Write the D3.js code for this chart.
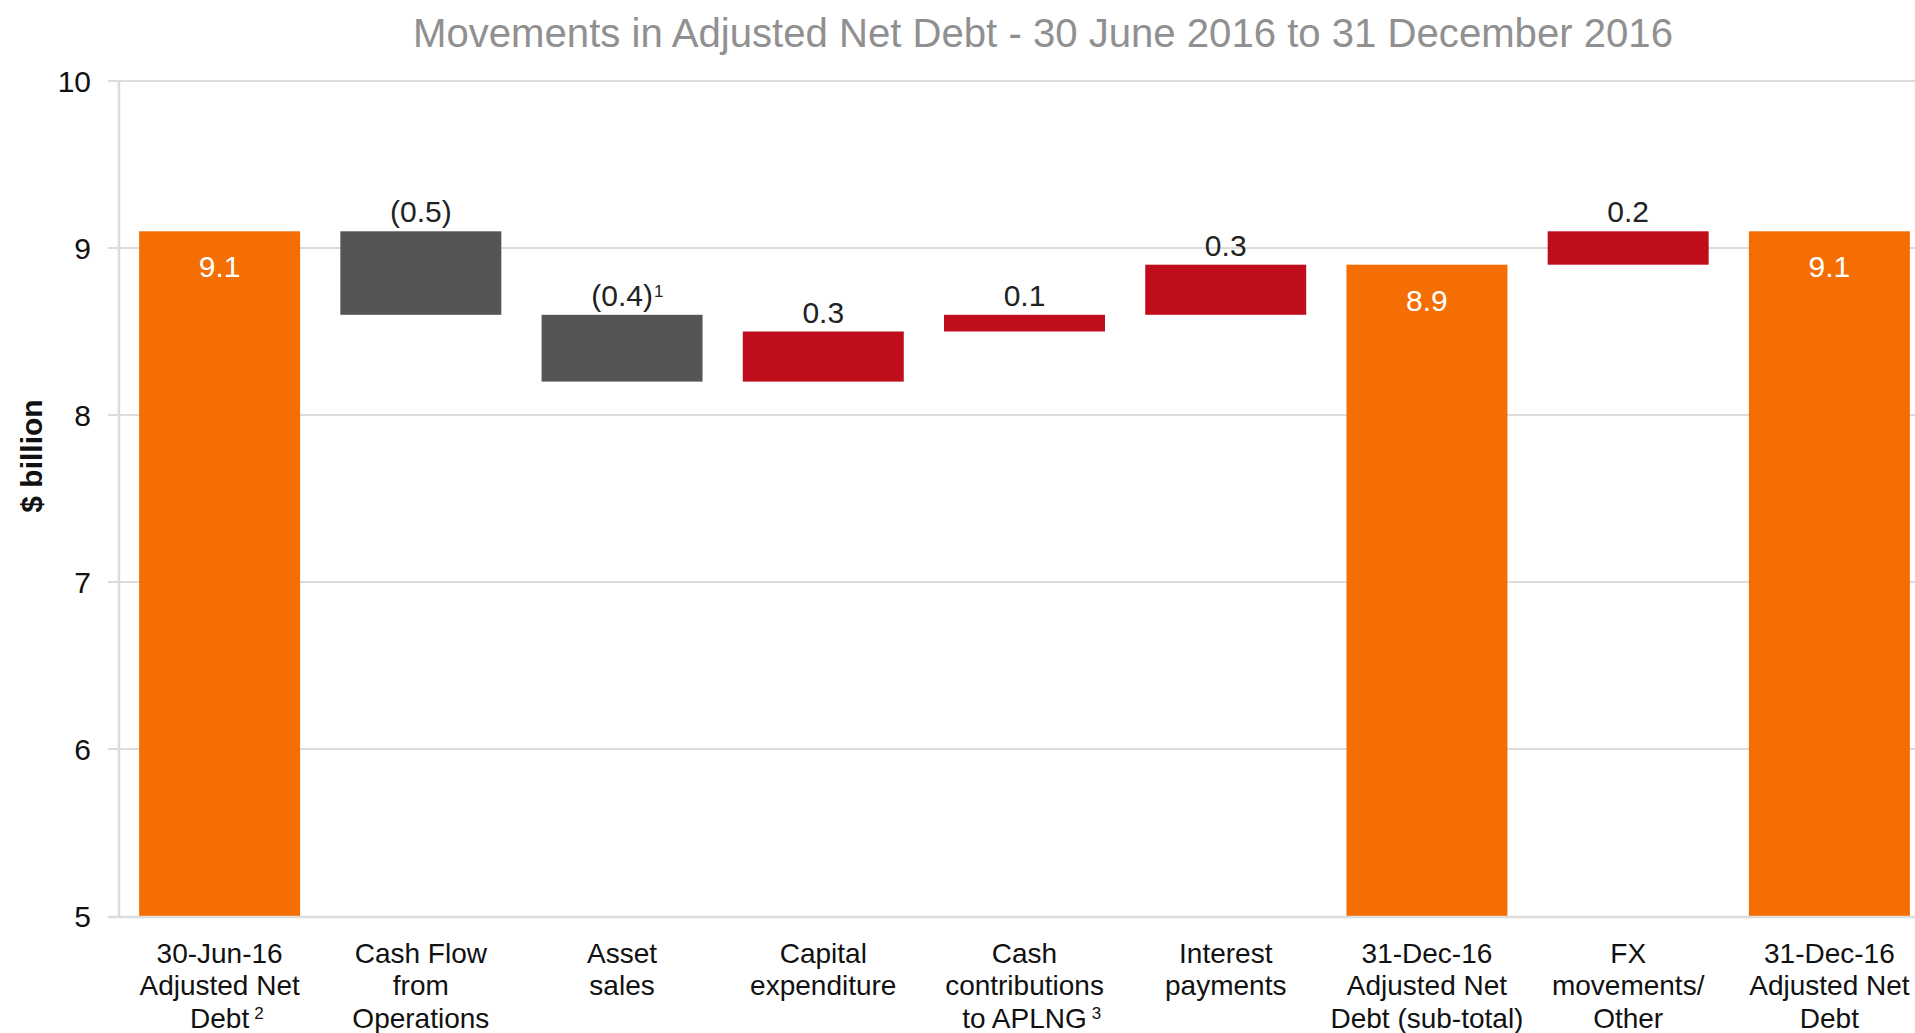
<!DOCTYPE html>
<html>
<head>
<meta charset="utf-8">
<script src="https://cdn.jsdelivr.net/npm/d3@7"></script>
<style>
  html, body { margin: 0; padding: 0; background: #ffffff; }
  svg { display: block; font-family: Arial, "Liberation Sans", Helvetica, sans-serif; }
</style>
</head>
<body>
<svg id="chart" width="1915" height="1033"></svg>
<script>
// Waterfall of adjusted net debt movements ($ billion)
const categoryLines = [
  ["30-Jun-16", "Adjusted Net", "Debt"],
  ["Cash Flow", "from", "Operations"],
  ["Asset", "sales"],
  ["Capital", "expenditure"],
  ["Cash", "contributions", "to APLNG"],
  ["Interest", "payments"],
  ["31-Dec-16", "Adjusted Net", "Debt (sub-total)"],
  ["FX", "movements/", "Other"],
  ["31-Dec-16", "Adjusted Net", "Debt"]
];
const categoryNotes = ["2", "", "", "", "3", "", "", "", ""];
const barKinds = ["total", "change", "change", "change", "change", "change", "total", "change", "total"];
const values = [9.1, -0.5, -0.4, 0.3, 0.1, 0.3, 8.9, 0.2, 9.1];
const valueNotes = ["", "", "1", "", "", "", "", "", ""];
const yTicks = [5, 6, 7, 8, 9, 10];
const yDomain = [5, 10];
const titleText = "Movements in Adjusted Net Debt - 30 June 2016 to 31 December 2016";
const yAxisTitle = "$ billion";

const colors = { total: "#f46e03", up: "#c00d1c", down: "#555555" };

const svg = d3.select("#chart");
const W = 1915;
const plot = { left: 119, right: 1930, top: 81, bottom: 916 };

// Build floating segments: totals start at the axis floor, changes run from the running level
let level = 0;
const bars = values.map((v, i) => {
  const key = categoryLines[i].join(" ");
  if (barKinds[i] === "total") {
    level = v;
    return { key, i, kind: "total", v, lo: yDomain[0], hi: v };
  }
  const start = level;
  level = +(level + v).toFixed(6);
  return { key, i, kind: v < 0 ? "down" : "up", v, lo: Math.min(start, level), hi: Math.max(start, level) };
});

const x = d3.scaleBand()
  .domain(bars.map(d => d.key))
  .range([plot.left, plot.right])
  .paddingInner(0.2)
  .paddingOuter(0.1);

const y = d3.scaleLinear().domain(yDomain).range([plot.bottom, plot.top]);

// Gridlines (extend slightly left of the axis as tick marks)
svg.append("g")
  .selectAll("line")
  .data(yTicks.filter(t => t !== yDomain[0]))
  .join("line")
  .attr("x1", plot.left - 11)
  .attr("x2", W)
  .attr("y1", d => y(d))
  .attr("y2", d => y(d))
  .attr("stroke", "#dcdcdc")
  .attr("stroke-width", 2);

// Y axis labels
const yAxis = svg.append("g")
  .attr("transform", `translate(${plot.left},0)`)
  .call(d3.axisLeft(y).tickValues(yTicks).tickSize(0).tickPadding(28).tickFormat(d3.format("d")));
yAxis.select(".domain").remove();
yAxis.selectAll("text")
  .attr("font-size", 30)
  .attr("fill", "#111111")
  .attr("font-family", "Arial, 'Liberation Sans', sans-serif")
  .attr("dy", "0.36em");

// Y axis title
svg.append("text")
  .attr("transform", `translate(42,456) rotate(-90)`)
  .attr("text-anchor", "middle")
  .attr("font-size", 30)
  .attr("font-weight", "bold")
  .attr("fill", "#111111")
  .text(yAxisTitle);

// Bars
svg.append("g")
  .selectAll("rect")
  .data(bars)
  .join("rect")
  .attr("x", d => x(d.key))
  .attr("width", x.bandwidth())
  .attr("y", d => y(d.hi))
  .attr("height", d => y(d.lo) - y(d.hi))
  .attr("fill", d => colors[d.kind]);

// Axis lines
svg.append("line")
  .attr("x1", plot.left).attr("x2", plot.left)
  .attr("y1", y(yDomain[1])).attr("y2", y(yDomain[0]) + 1)
  .attr("stroke", "#dcdcdc").attr("stroke-width", 2.5);
svg.append("line")
  .attr("x1", plot.left - 11).attr("x2", W)
  .attr("y1", y(yDomain[0]) + 1).attr("y2", y(yDomain[0]) + 1)
  .attr("stroke", "#dcdcdc").attr("stroke-width", 2.5);

// Value labels
const fmt = d3.format(".1f");
const labelText = d => d.kind === "total" ? fmt(d.v) : (d.v < 0 ? `(${fmt(-d.v)})` : fmt(d.v));
const vl = svg.append("g")
  .selectAll("text")
  .data(bars)
  .join("text")
  .attr("x", d => x(d.key) + x.bandwidth() / 2)
  .attr("y", d => d.kind === "total" ? y(d.hi) + 46 : y(d.hi) - 9)
  .attr("font-size", 30)
  .attr("fill", d => d.kind === "total" ? "#ffffff" : "#222222");
vl.append("tspan").attr("text-anchor", "middle").text(labelText);
vl.each(function(d) {
  const note = valueNotes[d.i];
  if (!note) return;
  const t = d3.select(this);
  const w = this.getBBox().width;
  t.append("tspan")
    .attr("x", x(d.key) + x.bandwidth() / 2 + w / 2 + 1)
    .attr("dy", -9)
    .attr("font-size", 17)
    .text(note);
});

// Category labels
const cl = svg.append("g")
  .selectAll("g")
  .data(bars)
  .join("g")
  .attr("transform", d => `translate(${x(d.key) + x.bandwidth() / 2},963)`);
cl.each(function(d) {
  const g = d3.select(this);
  const lines = categoryLines[d.i];
  lines.forEach((line, k) => {
    const t = g.append("text")
      .attr("y", k * 32.3)
      .attr("text-anchor", "middle")
      .attr("font-size", 28)
      .attr("fill", "#111111")
      .text(line);
    if (k === lines.length - 1 && categoryNotes[d.i]) {
      const w = t.node().getComputedTextLength();
      g.append("text")
        .attr("x", w / 2 + 5)
        .attr("y", k * 32.3 - 9)
        .attr("font-size", 17)
        .attr("fill", "#111111")
        .text(categoryNotes[d.i]);
    }
  });
});

// Title (slightly condensed)
svg.append("text")
  .attr("x", 1043)
  .attr("y", 47)
  .attr("text-anchor", "middle")
  .attr("font-size", 41)
  .attr("textLength", 1260)
  .attr("lengthAdjust", "spacingAndGlyphs")
  .attr("fill", "#909090")
  .text(titleText);
</script>
</body>
</html>
